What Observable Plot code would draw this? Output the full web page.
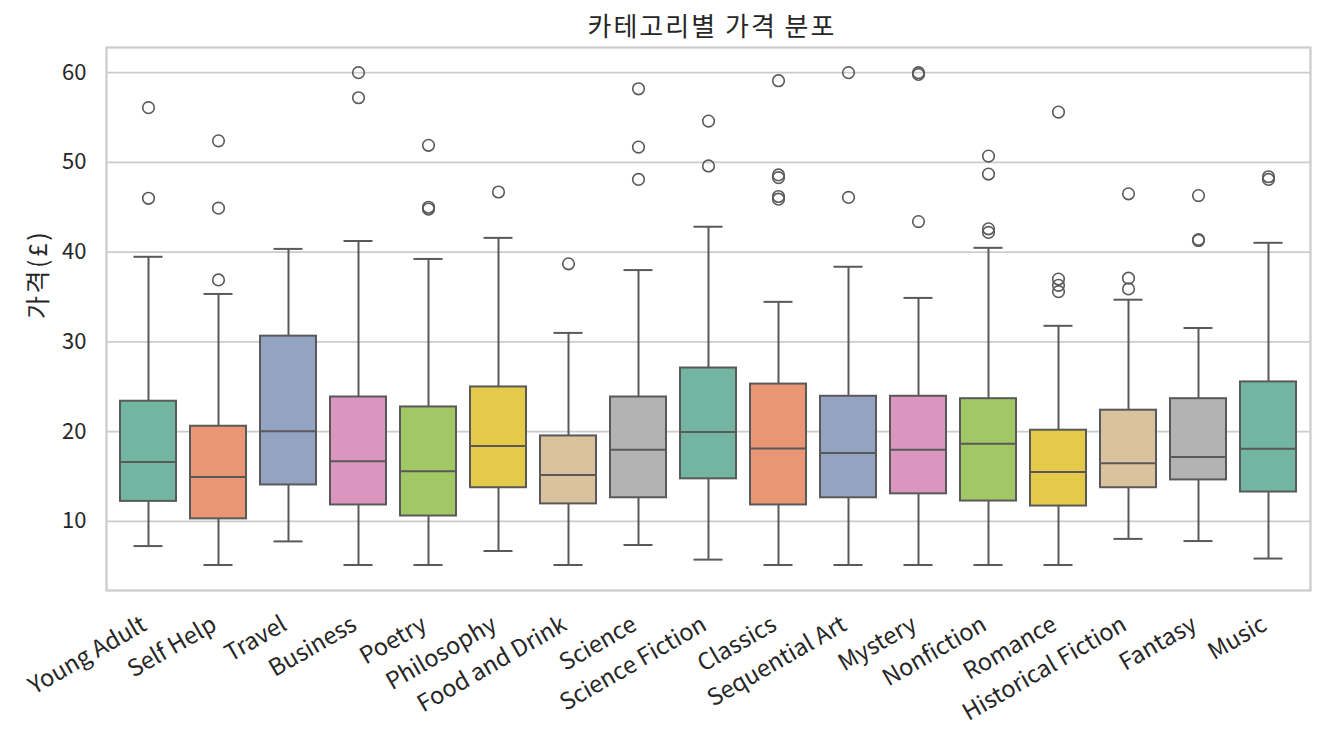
<!DOCTYPE html>
<html>
<head>
<meta charset="utf-8">
<script src="https://cdn.jsdelivr.net/npm/d3@7"></script>
<script src="https://cdn.jsdelivr.net/npm/@observablehq/plot@0.6"></script>
<style>
  body { margin: 0; background: #fff; font-family: "Noto Sans CJK KR", "Noto Sans", sans-serif; }
  #title { width: 1204px; margin-left: 110px; height: 40px; line-height: 50px; text-align: center; font-size: 26px; letter-spacing: 2px; color: #262626; overflow: visible; white-space: nowrap; }
</style>
</head>
<body>
<div id="title">카테고리별 가격 분포</div>
<div id="chart"></div>
<script>
const categories = ["Young Adult","Self Help","Travel","Business","Poetry","Philosophy","Food and Drink","Science","Science Fiction","Classics","Sequential Art","Mystery","Nonfiction","Romance","Historical Fiction","Fantasy","Music"];
const whiskerLow  = [7.25, 5.14, 7.77, 5.14, 5.14, 6.70, 5.14, 7.37, 5.74, 5.14, 5.14, 5.14, 5.14, 5.14, 8.05, 7.81, 5.86];
const q1          = [12.23,10.28,14.06,11.83,10.60,13.75,11.95,12.63,14.74,11.83,12.63,13.07,12.27,11.71,13.75,14.62,13.27];
const median      = [16.61,14.94,20.04,16.69,15.58,18.41,15.18,17.97,19.96,18.13,17.61,17.97,18.65,15.50,16.49,17.17,18.09];
const q3          = [23.39,20.60,30.64,23.86,22.75,24.98,19.52,23.86,27.09,25.30,23.94,23.94,23.67,20.16,22.39,23.67,25.54];
const whiskerHigh = [39.48,35.34,40.36,41.24,39.24,41.59,31.00,38.00,42.83,34.46,38.37,34.90,40.48,31.79,34.70,31.55,41.04];
const outliers = [
  [56.1, 46.0],
  [52.4, 44.9, 36.9],
  [],
  [60.0, 57.2],
  [51.9, 45.0, 44.8],
  [46.7],
  [38.7],
  [58.2, 51.7, 48.1],
  [54.6, 49.6],
  [59.1, 48.6, 48.3, 46.2, 45.9],
  [60.0, 46.1],
  [60.0, 59.8, 43.4],
  [50.7, 48.7, 42.6, 42.2],
  [55.6, 37.0, 36.3, 35.6],
  [46.5, 37.1, 35.9],
  [46.3, 41.4, 41.3],
  [48.4, 48.1]
];
const yTicks = [10, 20, 30, 40, 50, 60];
const yLabel = "가격(£)";

const set2 = ["#66c2a5","#fc8d62","#8da0cb","#e78ac3","#a6d854","#ffd92f","#e5c494","#b3b3b3"];
const desat = c => { const h = d3.hsl(c); h.s *= 0.75; return h.formatHex(); };
const boxColors = categories.map((_, i) => desat(set2[i % set2.length]));

const stats = categories.map((c, i) => ({
  category: c, low: whiskerLow[i], q1: q1[i], median: median[i], q3: q3[i], high: whiskerHigh[i]
}));
const fliers = categories.flatMap((c, i) => outliers[i].map(v => ({category: c, value: v})));

const lineColor = "#595959";
const lw = 2;

const chart = Plot.plot({
  width: 1326,
  height: 691,
  marginTop: 7,
  marginBottom: 141,
  marginLeft: 106,
  marginRight: 16,
  style: {fontFamily: "'Noto Sans CJK KR', 'Noto Sans', sans-serif", color: "#262626", background: "#fff"},
  x: {domain: categories, paddingInner: 0.2, paddingOuter: 0.1, label: null},
  y: {domain: [2.3, 62.8], label: null},
  color: {domain: categories, range: boxColors},
  marks: [
    Plot.gridY(yTicks, {stroke: "#cccccc", strokeOpacity: 1, strokeWidth: 1.8}),
    Plot.ruleX(stats, {x: "category", y1: "low", y2: "q1", stroke: lineColor, strokeWidth: lw}),
    Plot.ruleX(stats, {x: "category", y1: "q3", y2: "high", stroke: lineColor, strokeWidth: lw}),
    Plot.tickY(stats, {x: "category", y: "low", stroke: lineColor, strokeWidth: lw, insetLeft: 13.5, insetRight: 13.5}),
    Plot.tickY(stats, {x: "category", y: "high", stroke: lineColor, strokeWidth: lw, insetLeft: 13.5, insetRight: 13.5}),
    Plot.barY(stats, {x: "category", y1: "q1", y2: "q3", fill: "category", stroke: lineColor, strokeWidth: lw}),
    Plot.tickY(stats, {x: "category", y: "median", stroke: lineColor, strokeWidth: lw}),
    Plot.dot(fliers, {x: "category", y: "value", r: 5.8, stroke: lineColor, strokeWidth: 1.6, fill: "none"}),
    Plot.frame({stroke: "#cccccc", strokeWidth: 2.2}),
    Plot.axisY({ticks: yTicks, tickSize: 0, tickPadding: 20, fontSize: 22, label: null}),
    Plot.text([yLabel], {frameAnchor: "left", rotate: -90, dx: -68, fontSize: 25, fill: "#262626"}),
    Plot.axisX({tickSize: 0, tickRotate: -30, textAnchor: "end", lineAnchor: "middle", tickPadding: 32, dx: -4, fontSize: 23.5, label: null})
  ]
});
chart.querySelectorAll("g[aria-label='text'] text").forEach(t => { t.style.letterSpacing = "2.5px"; });
document.getElementById("chart").appendChild(chart);
</script>
</body>
</html>
